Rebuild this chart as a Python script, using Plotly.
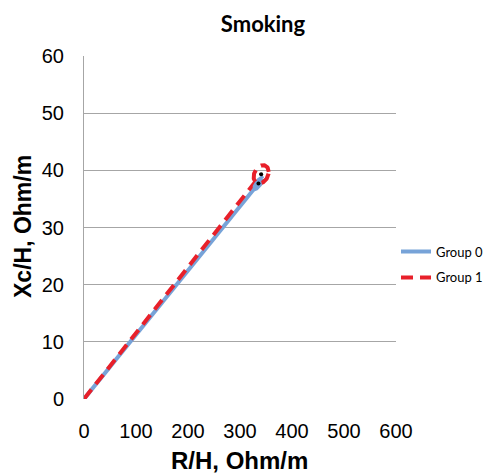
import numpy as np
import plotly.graph_objects as go

# Data
groups = ["Group 0", "Group 1"]
mean_R = [335.5, 340.7]      # R/H, Ohm/m
mean_Xc = [37.7, 39.3]       # Xc/H, Ohm/m
semi_R = [8.0, 14.5]         # ellipse half-extent along R
semi_Xc = [1.0, 1.6]         # ellipse half-extent along Xc
phase = [0.6, 1.3]           # ellipse tilt (correlation phase)
colors = ["#77a3d8", "#e8202a"]
dashes = ["solid", "12px,7px"]

x_ticks = [0, 100, 200, 300, 400, 500, 600]
y_ticks = [0, 10, 20, 30, 40, 50, 60]

# the page adds an 8px body margin, so the figure is 8px smaller each way
W, H = 484, 467
ML, MR, MT, MB = 76, 96, 48, 76

fig = go.Figure()
t = np.linspace(0, 2 * np.pi, 120)
for i, g in enumerate(groups):
    fig.add_trace(go.Scatter(
        x=[0, mean_R[i]], y=[0, mean_Xc[i]], mode="lines", name=g,
        legendgroup=g,
        line=dict(color=colors[i], width=4, dash=dashes[i]),
    ))
for i, g in enumerate(groups):
    ex = mean_R[i] + semi_R[i] * np.cos(t)
    ey = mean_Xc[i] + semi_Xc[i] * np.cos(t - phase[i])
    fig.add_trace(go.Scatter(
        x=ex, y=ey, mode="lines", showlegend=False, legendgroup=g,
        line=dict(color=colors[i], width=4, dash=dashes[i]),
        hoverinfo="skip",
    ))
fig.add_trace(go.Scatter(
    x=mean_R, y=mean_Xc, mode="markers", showlegend=False,
    marker=dict(color="black", size=4),
))

pw, ph = W - ML - MR, H - MT - MB


def px_to_paper(x, y):
    return (x - ML) / pw, (H - MB - y) / ph


xt_x, xt_y = px_to_paper(231, 452)
yt_x, yt_y = px_to_paper(15, 219)

fig.update_layout(
    width=W, height=H,
    margin=dict(l=ML, r=MR, t=MT, b=MB, autoexpand=False),
    paper_bgcolor="white", plot_bgcolor="white",
    title=dict(text="<b>Smoking</b>", x=255 / W, xanchor="center",
               y=1 - 16 / H, yanchor="middle",
               font=dict(family="Lato", size=22, color="black")),
    font=dict(family="Liberation Sans, Arial", color="black"),
    legend=dict(x=1.0, xanchor="left", y=0.392, yanchor="middle",
                font=dict(family="Lato", size=13, color="black"),
                tracegroupgap=6, traceorder="grouped", bgcolor="rgba(0,0,0,0)"),
    xaxis=dict(range=[0, 600], tickvals=x_ticks, showgrid=False, zeroline=False,
               showline=False, ticks="outside", ticklen=14, tickcolor="rgba(0,0,0,0)",
               tickfont=dict(size=20), automargin=False),
    yaxis=dict(range=[0, 60], tickvals=y_ticks, showgrid=True, gridcolor="#a6a6a6",
               gridwidth=1, zeroline=False, showline=True, linecolor="#a6a6a6",
               linewidth=1, ticks="outside", ticklen=15, tickcolor="rgba(0,0,0,0)",
               tickfont=dict(size=20), automargin=False),
    annotations=[
        dict(text="<b>R/H, Ohm/m</b>", x=xt_x, y=xt_y, xref="paper", yref="paper",
             xanchor="center", yanchor="middle", showarrow=False, font=dict(size=24)),
        dict(text="<b>Xc/H, Ohm/m</b>", x=yt_x, y=yt_y, xref="paper", yref="paper",
             xanchor="center", yanchor="middle", showarrow=False, textangle=-90,
             font=dict(size=23)),
    ],
)

fig.write_html("out.html")
